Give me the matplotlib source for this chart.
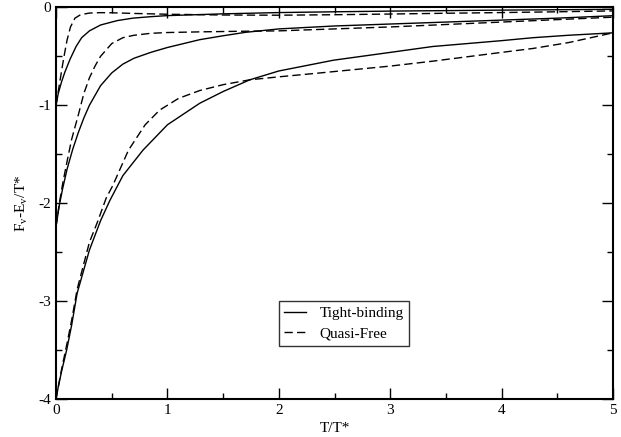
import numpy as np
import matplotlib
matplotlib.use("Agg")
import matplotlib.pyplot as plt
from matplotlib.ticker import MultipleLocator

plt.rcParams['font.family'] = ['Liberation Serif', 'DejaVu Serif']
plt.rcParams['axes.unicode_minus'] = False
plt.rcParams['mathtext.fontset'] = 'custom'
plt.rcParams['mathtext.rm'] = 'Liberation Serif'

# values (T/T*, (F_v-E_v)/T*)
tb1_t = [0, 0.02, 0.05, 0.08, 0.126, 0.18, 0.23, 0.3, 0.4, 0.55, 0.69, 0.85, 1.0,
         1.25, 1.5, 2.0, 2.5, 3.0, 3.5, 4.0, 4.5, 5.0]
tb1_v = [-1.0, -0.88, -0.76, -0.66, -0.53, -0.40, -0.31, -0.24, -0.18, -0.135, -0.11,
         -0.095, -0.084, -0.075, -0.066, -0.053, -0.045, -0.038, -0.033, -0.028, -0.024, -0.02]

qf1_t = [0, 0.02, 0.04, 0.06, 0.08, 0.1, 0.13, 0.17, 0.22, 0.3, 0.4, 0.5, 0.7, 1.0,
         1.5, 2.0, 2.5, 3.0, 3.5, 4.0, 4.5, 5.0]
qf1_v = [-1.0, -0.86, -0.72, -0.58, -0.45, -0.33, -0.2, -0.11, -0.075, -0.058, -0.054,
         -0.055, -0.062, -0.07, -0.078, -0.08, -0.075, -0.068, -0.06, -0.053, -0.045, -0.036]

tb2_t = [0, 0.03, 0.06, 0.1, 0.15, 0.2, 0.25, 0.3, 0.4, 0.5, 0.6, 0.7, 0.85, 1.0,
         1.29, 1.5, 1.7, 2.0, 2.5, 3.0, 3.5, 4.0, 4.5, 5.0]
tb2_v = [-2.24, -2.02, -1.85, -1.65, -1.45, -1.28, -1.13, -1.0, -0.8, -0.67, -0.58,
         -0.52, -0.46, -0.41, -0.33, -0.29, -0.255, -0.22, -0.19, -0.17, -0.15, -0.13, -0.11, -0.085]

qf2_t = [0, 0.03, 0.06, 0.1, 0.14, 0.2, 0.25, 0.3, 0.35, 0.4, 0.5, 0.6, 0.7, 0.85,
         1.0, 1.3, 1.6, 2.0, 2.5, 3.0, 3.5, 4.0, 4.5, 5.0]
qf2_v = [-2.24, -2.0, -1.8, -1.57, -1.35, -1.1, -0.88, -0.72, -0.6, -0.5, -0.37,
         -0.31, -0.285, -0.265, -0.257, -0.25, -0.245, -0.24, -0.22, -0.2, -0.175, -0.15, -0.125, -0.1]

tb3_t = [0, 0.02, 0.05, 0.096, 0.14, 0.19, 0.3, 0.4, 0.485, 0.6, 0.78, 1.0, 1.29,
         1.5, 1.74, 2.0, 2.49, 3.0, 3.38, 4.0, 4.28, 4.6, 5.0]
tb3_v = [-4.0, -3.88, -3.72, -3.5, -3.25, -2.92, -2.48, -2.18, -1.97, -1.72, -1.46,
         -1.2, -0.98, -0.86, -0.74, -0.65, -0.54, -0.46, -0.40, -0.34, -0.31, -0.285, -0.26]

qf3_t = [0, 0.02, 0.05, 0.096, 0.14, 0.19, 0.3, 0.37, 0.45, 0.51, 0.65, 0.8, 0.93,
         1.1, 1.29, 1.5, 1.74, 2.0, 2.37, 3.0, 3.38, 4.0, 4.28, 4.6, 5.0]
qf3_v = [-4.0, -3.88, -3.7, -3.45, -3.2, -2.88, -2.4, -2.2, -1.95, -1.82, -1.46,
         -1.2, -1.05, -0.93, -0.85, -0.79, -0.74, -0.71, -0.67, -0.6, -0.55, -0.46, -0.42, -0.36, -0.26]

fig = plt.figure(figsize=(6.21, 4.37), dpi=100)
ax = fig.add_axes([0.0902, 0.0876, 0.897, 0.8955])

dash = (6, 3)
ax.plot(tb1_t, tb1_v, 'k-', lw=1, label='Tight-binding')
ax.plot(qf1_t, qf1_v, 'k--', lw=1, dashes=dash, label='Quasi-Free')
ax.plot(tb2_t, tb2_v, 'k-', lw=1)
ax.plot(qf2_t, qf2_v, 'k--', lw=1, dashes=dash)
ax.plot(tb3_t, tb3_v, 'k-', lw=1)
ax.plot(qf3_t, qf3_v, 'k--', lw=1, dashes=dash)

ax.set_xlim(0, 5)
ax.set_ylim(-4, 0)
ax.xaxis.set_major_locator(MultipleLocator(1))
ax.xaxis.set_minor_locator(MultipleLocator(0.5))
ax.yaxis.set_major_locator(MultipleLocator(1))
ax.yaxis.set_minor_locator(MultipleLocator(0.5))
ax.tick_params(which='both', direction='in', top=True, right=True, labelsize=11, width=1)
ax.tick_params(which='major', length=8)
ax.tick_params(which='minor', length=4)
for s in ax.spines.values():
    s.set_linewidth(1.5)

ax.set_xlabel('T/T*', fontsize=11, labelpad=4)
ax.set_ylabel(r'F$_\mathrm{v}$-E$_\mathrm{v}$/T*', fontsize=11, labelpad=6)

leg = ax.legend(loc='lower left', bbox_to_anchor=(0.40, 0.135), borderaxespad=0,
                fontsize=11, frameon=True, fancybox=False, handlelength=1.45,
                borderpad=0.35, labelspacing=0.45, handletextpad=0.85)
leg.get_frame().set_edgecolor('black')
leg.get_frame().set_linewidth(1)

fig.savefig('out.png', dpi=100)
